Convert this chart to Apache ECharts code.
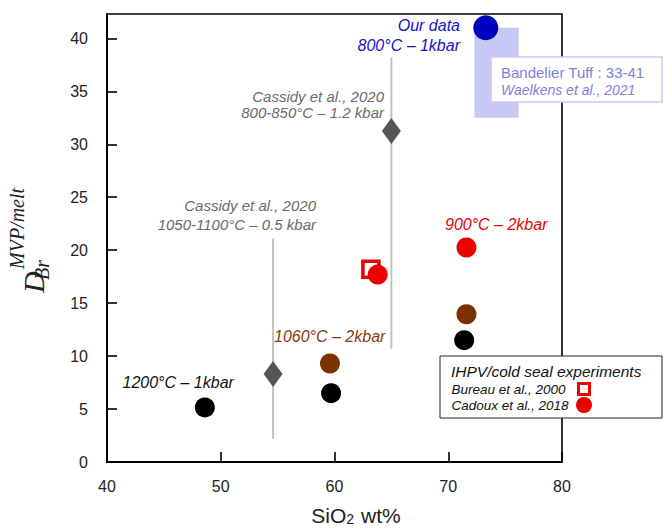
<!DOCTYPE html>
<html>
<head>
<meta charset="utf-8">
<script src="https://cdn.jsdelivr.net/npm/echarts@6/dist/echarts.min.js"></script>
<style>html,body{margin:0;padding:0;background:#fff}#c{width:663px;height:530px}</style>
</head>
<body>
<div id="c"></div>
<script>
// ---- data ----
const xTicks = [40, 50, 60, 70, 80];
const yTicks = [0, 5, 10, 15, 20, 25, 30, 35, 40];

const blackX = [48.6, 59.7, 71.4];
const blackY = [5.15, 6.5, 11.5];

const brownX = [59.6, 71.6];
const brownY = [9.3, 13.95];

const redCircleX = [63.8, 71.6];
const redCircleY = [17.7, 20.25];

const redSquareX = [63.2];
const redSquareY = [18.2];

const ourX = [73.3];
const ourY = [41.0];

const cassidyX = [54.6, 65.0];
const cassidyY = [8.3, 31.25];
const cassidyLow = [2.2, 10.7];
const cassidyHigh = [21.1, 38.2];

const bandelierX = [72.3, 76.2];
const bandelierY = [32.5, 41.0];

// ---- build ----
const zip = (xs, ys) => xs.map((x, i) => [x, ys[i]]);
const SANS = '"Liberation Sans", Arial, sans-serif';
const SERIF = '"Liberation Serif", "Times New Roman", serif';
const RED = '#ec0000';
const BROWN = '#7a3300';
const BLUE = '#0000c0';

const series = [];
series.push({
  type: 'custom', z: 1, silent: true,
  renderItem: function (params, api) {
    const p0 = api.coord([api.value(0), api.value(3)]);
    const p1 = api.coord([api.value(1), api.value(2)]);
    return {type: 'rect', shape: {x: p0[0], y: p0[1], width: p1[0] - p0[0], height: p1[1] - p0[1]},
            style: {fill: '#c8c8f6'}};
  },
  data: [[bandelierX[0], bandelierX[1], bandelierY[0], bandelierY[1]]]
});
cassidyX.forEach((x, i) => {
  series.push({type: 'line', z: 2, symbol: 'none', silent: true,
    lineStyle: {color: '#c2c2c2', width: 2, opacity: 1},
    data: [[x, cassidyLow[i]], [x, cassidyHigh[i]]]});
});
series.push({type: 'scatter', z: 3, symbol: 'diamond', symbolSize: [19, 26],
  itemStyle: {color: '#555555', opacity: 1}, data: zip(cassidyX, cassidyY)});
series.push({type: 'scatter', z: 3, symbol: 'rect', symbolSize: 16,
  itemStyle: {color: '#ffffff', borderColor: RED, borderWidth: 3.5, opacity: 1}, data: zip(redSquareX, redSquareY)});
series.push({type: 'scatter', z: 4, symbol: 'circle', symbolSize: 20,
  itemStyle: {color: '#000000', opacity: 1}, data: zip(blackX, blackY)});
series.push({type: 'scatter', z: 4, symbol: 'circle', symbolSize: 20,
  itemStyle: {color: BROWN, opacity: 1}, data: zip(brownX, brownY)});
series.push({type: 'scatter', z: 4, symbol: 'circle', symbolSize: 20,
  itemStyle: {color: RED, opacity: 1}, data: zip(redCircleX, redCircleY)});
series.push({type: 'scatter', z: 5, symbol: 'circle', symbolSize: 25,
  itemStyle: {color: BLUE, opacity: 1}, data: zip(ourX, ourY)});

function txt(text, x, y, color, size, align, italic) {
  return {type: 'text', x: x, y: y, z: 20,
    style: {text: text, fill: color,
      font: (italic === false ? '' : 'italic ') + size + 'px ' + SANS,
      align: align, textAlign: align, verticalAlign: 'middle', textVerticalAlign: 'middle'}};
}

const graphics = [
  // annotations
  txt('Our data', 460, 25, '#1414c8', 16, 'right'),
  txt('800°C – 1kbar', 460, 45.5, '#1414c8', 16, 'right'),
  txt('Cassidy et al., 2020', 384, 96, '#6a6a6a', 15, 'right'),
  txt('800-850°C – 1.2 kbar', 384, 112, '#6a6a6a', 15, 'right'),
  txt('Cassidy et al., 2020', 316, 205.7, '#6a6a6a', 15, 'right'),
  txt('1050-1100°C – 0.5 kbar', 316, 224, '#6a6a6a', 15, 'right'),
  txt('900°C – 2kbar', 445, 224.3, RED, 16, 'left'),
  txt('1060°C – 2kbar', 274, 336, '#8b3a0a', 16, 'left'),
  txt('1200°C – 1kbar', 122.5, 382.7, '#111111', 16, 'left'),
  // Bandelier box
  {type: 'rect', z: 15, shape: {x: 491, y: 57, width: 171, height: 45},
    style: {fill: '#ffffff', stroke: '#cfc6f6', lineWidth: 1.5}},
  txt('Bandelier Tuff : 33-41', 501, 72, '#7f7fe0', 15, 'left', false),
  txt('Waelkens et al., 2021', 501, 90, '#7f7fe0', 14, 'left'),
  // legend box
  {type: 'rect', z: 15, shape: {x: 440, y: 356, width: 222, height: 62},
    style: {fill: '#ffffff', stroke: '#222222', lineWidth: 1}},
  txt('IHPV/cold seal experiments', 451, 371, '#111111', 15.5, 'left'),
  txt('Bureau et al., 2000', 451.5, 389, '#111111', 13.5, 'left'),
  txt('Cadoux et al., 2018', 451.5, 405.5, '#111111', 13.5, 'left'),
  {type: 'rect', z: 20, shape: {x: 578.5, y: 383.5, width: 11, height: 11},
    style: {fill: '#ffffff', stroke: RED, lineWidth: 3}},
  {type: 'circle', z: 20, shape: {cx: 584, cy: 405, r: 8}, style: {fill: RED}},
  // x axis name
  {type: 'text', x: 356, y: 515, z: 20,
    style: {text: 'SiO{s|2} wt%', fill: '#222222', font: '21px ' + SANS,
      align: 'center', textAlign: 'center', verticalAlign: 'middle', textVerticalAlign: 'middle',
      rich: {s: {fontSize: 14, fontFamily: SANS, fill: '#222222', verticalAlign: 'bottom', lineHeight: 14, padding: [0, 1, 0, 0]}}}},
  // y axis name
  {type: 'group', x: 33, y: 293, rotation: Math.PI / 2, z: 20, children: [
    {type: 'text', x: 0, y: 0, style: {text: 'D', fill: '#222222', font: 'italic 30px ' + SERIF,
      align: 'left', textAlign: 'left', verticalAlign: 'middle', textVerticalAlign: 'middle'}},
    {type: 'text', x: 24, y: -16, style: {text: 'MVP/melt', fill: '#222222', font: 'italic 20px ' + SERIF,
      align: 'left', textAlign: 'left', verticalAlign: 'middle', textVerticalAlign: 'middle'}},
    {type: 'text', x: 13, y: 9, style: {text: 'Br', fill: '#222222', font: 'italic 20px ' + SERIF,
      align: 'left', textAlign: 'left', verticalAlign: 'middle', textVerticalAlign: 'middle'}}
  ]}
];

const chart = echarts.init(document.getElementById('c'), null, {renderer: 'svg'});
chart.setOption({
  animation: false,
  backgroundColor: '#ffffff',
  grid: {left: 107, right: 101, top: 14, bottom: 68, show: true, borderColor: '#000', borderWidth: 1.6, backgroundColor: 'transparent'},
  xAxis: {
    type: 'value', min: 40, max: 80, interval: 10,
    axisLine: {show: true, onZero: false, lineStyle: {color: '#000', width: 2}},
    axisTick: {show: true, inside: true, length: 10, lineStyle: {color: '#000', width: 1.6}, customValues: xTicks},
    axisLabel: {show: true, margin: 16, fontSize: 16, color: '#222', fontFamily: SANS, customValues: xTicks},
    splitLine: {show: false}
  },
  yAxis: {
    type: 'value', min: 0, max: 42.3, interval: 5,
    axisLine: {show: true, onZero: false, lineStyle: {color: '#000', width: 2}},
    axisTick: {show: true, inside: true, length: 10, lineStyle: {color: '#000', width: 1.6}, customValues: yTicks},
    axisLabel: {show: true, margin: 19, fontSize: 16, color: '#222', fontFamily: SANS, customValues: yTicks},
    splitLine: {show: false}
  },
  series: series,
  graphic: {elements: graphics}
});
</script>
</body>
</html>
